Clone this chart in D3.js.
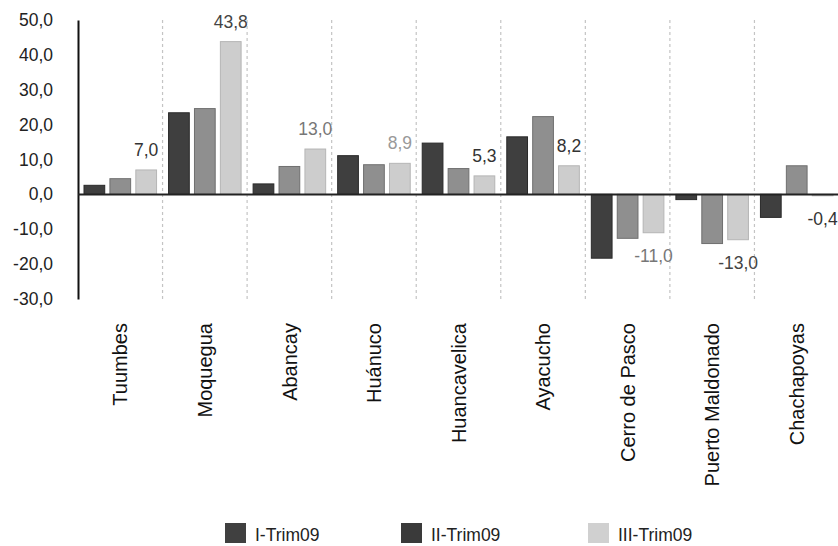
<!DOCTYPE html>
<html>
<head>
<meta charset="utf-8">
<script src="https://cdn.jsdelivr.net/npm/d3@7"></script>
<style>
  html, body { margin: 0; padding: 0; background: #fff; }
  svg { display: block; font-family: "Liberation Sans", Arial, sans-serif; }
</style>
</head>
<body>
<svg id="chart" width="838" height="546"></svg>
<script>
// ---- data ----
const categories = ["Tuumbes", "Moquegua", "Abancay", "Huánuco", "Huancavelica", "Ayacucho", "Cerro de Pasco", "Puerto Maldonado", "Chachapoyas"];
const seriesNames = ["I-Trim09", "II-Trim09", "III-Trim09"];
const trim1 = [2.6, 23.4, 3.0, 11.1, 14.7, 16.5, -18.3, -1.5, -6.6];
const trim2 = [4.5, 24.6, 8.0, 8.5, 7.4, 22.3, -12.6, -14.1, 8.2];
const trim3 = [7.0, 43.8, 13.0, 8.9, 5.3, 8.2, -11.0, -13.0, -0.4];
const yTicks = [50, 40, 30, 20, 10, 0, -10, -20, -30];

// ---- styles ----
const barFill = ["#3f3f3f", "#8f8f8f", "#cdcdcd"];
const barStroke = ["#2a2a2a", "#6f6f6f", "#b5b5b5"];
const legendFill = ["#404040", "#3a3a3a", "#d0d0d0"];
const labelColors = ["#333", "#444", "#777", "#999", "#333", "#333", "#777", "#444", "#333"];

const svg = d3.select("#chart");
const fmt = v => d3.format(".1f")(v).replace(".", ",").replace("−", "-");

const x0 = d3.scaleBand().domain(categories).range([78, 839]).paddingInner(0).paddingOuter(0);
const x1 = d3.scaleBand().domain(d3.range(3)).range([6, x0.bandwidth() - 6]).paddingInner(0.2).paddingOuter(0);
const y = d3.scaleLinear().domain([-30, 50]).range([299, 20]);

// dashed vertical separators
svg.append("g").selectAll("line")
  .data(categories.slice(1))
  .join("line")
  .attr("x1", d => x0(d)).attr("x2", d => x0(d))
  .attr("y1", y(50)).attr("y2", y(-30))
  .attr("stroke", "#c4c4c4").attr("stroke-width", 1.2)
  .attr("stroke-dasharray", "3,3");

// bars
const series = [trim1, trim2, trim3];
const g = svg.append("g");
series.forEach((vals, si) => {
  g.selectAll(".b" + si)
    .data(vals)
    .join("rect")
    .attr("x", (d, i) => x0(categories[i]) + x1(si))
    .attr("width", x1.bandwidth())
    .attr("y", d => Math.min(y(d), y(0)))
    .attr("height", d => Math.abs(y(d) - y(0)))
    .attr("fill", barFill[si])
    .attr("stroke", barStroke[si])
    .attr("stroke-width", 1);
});

// y axis (no ticks)
const yAxis = d3.axisLeft(y).tickValues(yTicks).tickSize(0).tickPadding(25).tickFormat(fmt);
const ya = svg.append("g").attr("transform", "translate(78,0)").call(yAxis);
ya.select(".domain").attr("stroke", "#111").attr("stroke-width", 2);
ya.selectAll("text").attr("font-size", 17.5).attr("fill", "#222")
  .attr("font-family", "'Liberation Sans', Arial, sans-serif");

// zero line
svg.append("line")
  .attr("x1", 78).attr("x2", 838)
  .attr("y1", y(0)).attr("y2", y(0))
  .attr("stroke", "#222").attr("stroke-width", 2);

// value labels for III-Trim09
svg.append("g").selectAll("text")
  .data(trim3)
  .join("text")
  .attr("x", (d, i) => x0(categories[i]) + x1(2) + x1.bandwidth() / 2)
  .attr("y", d => d >= 0 ? y(d) - 14 : y(d) + 29)
  .attr("text-anchor", "middle")
  .attr("font-size", 17.5)
  .attr("fill", (d, i) => labelColors[i])
  .text(d => fmt(d));

// category labels (rotated)
const xAxis = d3.axisBottom(x0).tickSize(0).tickPadding(0);
const xa = svg.append("g").attr("transform", "translate(0,323)").call(xAxis);
xa.select(".domain").remove();
xa.selectAll("text")
  .attr("font-size", 20).attr("fill", "#111")
  .attr("font-family", "'Liberation Sans', Arial, sans-serif")
  .attr("text-anchor", "end")
  .attr("transform", "rotate(-90)")
  .attr("x", 0).attr("y", 0).attr("dy", "0.36em");

// legend
const legendX = [225, 401, 588];
const lg = svg.append("g").selectAll("g")
  .data(seriesNames)
  .join("g")
  .attr("transform", (d, i) => `translate(${legendX[i]},523)`);
lg.append("rect").attr("width", 21).attr("height", 20)
  .attr("fill", (d, i) => legendFill[i]);
lg.append("text").attr("x", 30).attr("y", 18)
  .attr("font-size", 17.5).attr("fill", "#222")
  .text(d => d);
</script>
</body>
</html>
